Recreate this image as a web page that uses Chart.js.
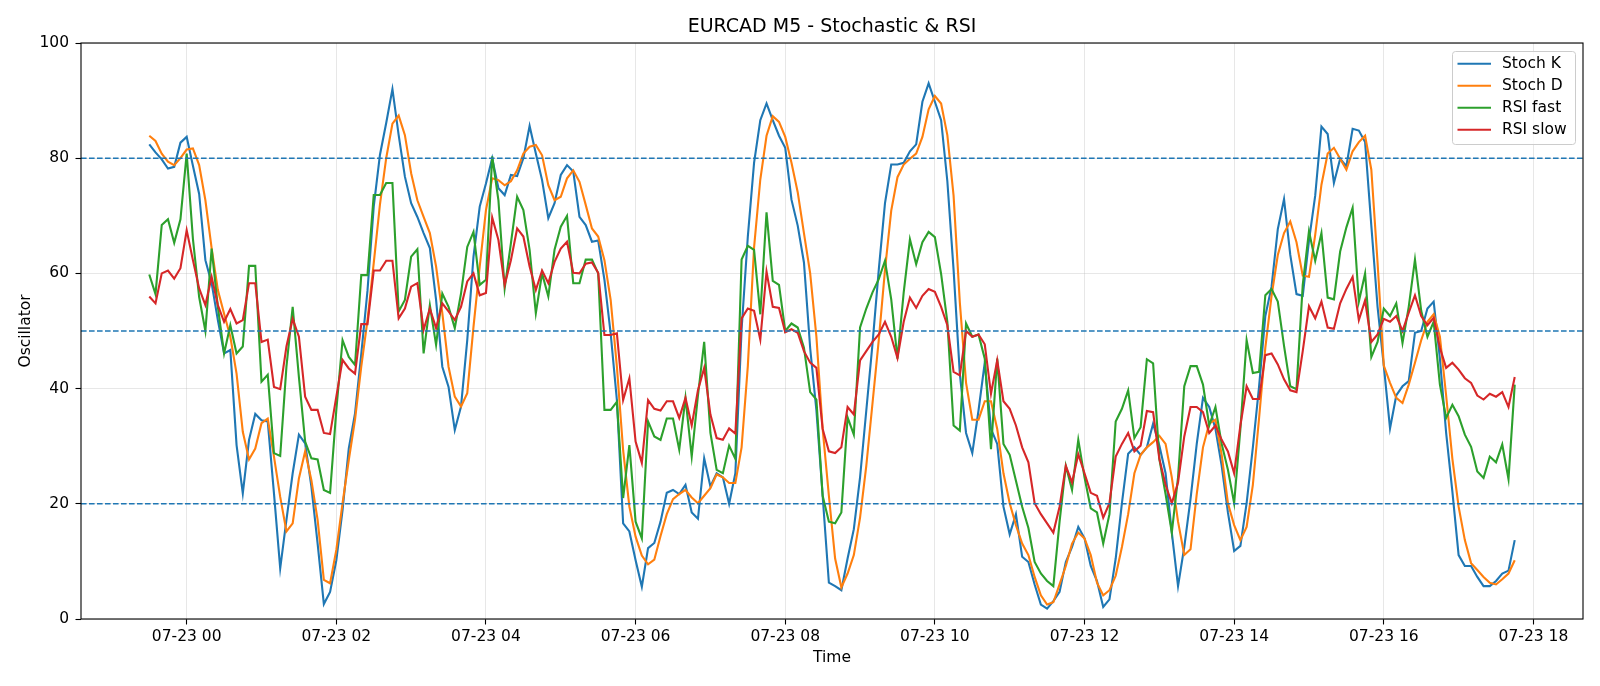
<!DOCTYPE html>
<html>
<head>
<meta charset="utf-8">
<title>EURCAD M5 - Stochastic & RSI</title>
<script src="https://cdn.jsdelivr.net/npm/chart.js@4.4.1/dist/chart.umd.min.js"></script>
<style>
  html, body { margin: 0; padding: 0; background: #fff; }
  #chart { display: block; }
</style>
</head>
<body>
<canvas id="chart" width="1600" height="686"></canvas>
<script>
// 시간축: 07-22 23:30 부터 5분봉 (분 단위, 07-23 00:00 = 0)
const startMinute = -30;
const stepMinutes = 5;

// 눈금
const xTickValues = [0, 120, 240, 360, 480, 600, 720, 840, 960, 1080];
const xTickLabels = ['07-23 00', '07-23 02', '07-23 04', '07-23 06', '07-23 08',
                     '07-23 10', '07-23 12', '07-23 14', '07-23 16', '07-23 18'];
const yTickValues = [0, 20, 40, 60, 80, 100];
const levels = [80, 50, 20];

// 시리즈 값
const stochK = [
    82.4, 81.0, 79.8, 78.2, 78.5, 82.7, 83.7, 78.7, 73.8, 62.3,
    58.3, 51.9, 46.1, 46.7, 30.2, 21.8, 31.1, 35.6, 34.5, 34.3,
    21.8, 8.8, 17.2, 25.3, 32.0, 30.5, 23.0, 13.1, 2.6, 4.7,
    10.2, 18.9, 29.6, 35.7, 46.0, 57.0, 71.6, 80.6, 86.1, 92.0,
    84.0, 76.8, 72.2, 69.8, 67.0, 64.4, 55.4, 43.8, 40.3, 32.8,
    36.9, 48.4, 62.9, 71.6, 75.6, 80.0, 74.8, 73.6, 77.1, 76.9,
    80.0, 85.6, 80.8, 76.2, 69.6, 72.2, 77.1, 78.8, 77.7, 69.8,
    68.4, 65.5, 65.7, 58.9, 49.6, 38.0, 16.6, 15.2, 10.2, 5.6,
    12.3, 13.2, 16.9, 21.9, 22.4, 21.7, 23.3, 18.5, 17.4, 27.9,
    23.0, 25.3, 24.6, 20.0, 25.3, 50.3, 66.4, 79.2, 86.6, 89.5,
    86.6, 83.9, 81.8, 72.8, 68.3, 61.9, 47.0, 36.2, 21.4, 6.3,
    5.7, 5.0, 10.5, 15.6, 24.6, 36.2, 47.8, 60.6, 72.2, 78.9,
    78.9, 79.2, 81.2, 82.4, 89.8, 93.0, 89.8, 86.6, 76.0, 60.6,
    42.6, 32.3, 28.8, 36.2, 44.5, 33.0, 30.4, 19.5, 14.7, 18.2,
    10.8, 9.9, 6.0, 2.5, 1.8, 3.1, 4.7, 9.9, 12.5, 16.0,
    14.0, 9.2, 6.6, 2.1, 3.4, 10.5, 20.1, 28.7, 29.8, 28.5,
    29.8, 33.9, 30.1, 25.3, 15.0, 5.7, 12.5, 20.8, 30.4, 38.4,
    36.8, 33.0, 26.6, 18.5, 11.8, 12.7, 20.1, 29.8, 40.4, 52.6,
    57.7, 67.7, 72.9, 63.2, 56.4, 56.1, 65.7, 73.5, 85.5, 84.2,
    75.7, 79.9, 78.6, 85.1, 84.8, 82.8, 68.3, 54.2, 44.0, 33.1,
    38.8, 40.4, 41.3, 49.7, 50.0, 53.9, 55.1, 45.2, 32.3, 22.1,
    11.1, 9.2, 9.2, 7.3, 5.7, 5.7, 6.6, 7.9, 8.4, 13.7
];
const stochD = [
    83.9, 83.0, 80.8, 79.4, 78.8, 80.0, 81.5, 81.7, 78.8, 72.7,
    64.4, 57.1, 53.0, 49.0, 42.6, 32.5, 27.7, 29.6, 34.0, 34.8,
    28.2, 21.2, 15.2, 16.6, 24.4, 29.1, 24.1, 17.2, 6.8, 6.2,
    12.0, 20.1, 27.6, 34.6, 43.8, 51.9, 61.8, 72.0, 80.0, 86.0,
    87.4, 84.0, 77.4, 72.7, 69.8, 67.0, 61.2, 53.1, 43.8, 38.6,
    36.9, 39.2, 50.7, 61.2, 71.0, 76.5, 76.2, 75.3, 76.0, 77.9,
    80.8, 82.0, 82.3, 80.5, 75.3, 72.7, 73.3, 76.5, 77.9, 75.9,
    71.9, 67.8, 66.4, 62.3, 55.4, 43.8, 29.3, 19.5, 14.3, 11.0,
    9.5, 10.3, 14.4, 18.2, 20.8, 21.7, 22.4, 21.1, 20.1, 21.4,
    22.7, 25.1, 24.6, 23.6, 23.6, 29.8, 43.9, 64.5, 76.3, 83.9,
    87.3, 86.3, 83.7, 79.2, 74.1, 67.0, 60.0, 49.0, 33.0, 21.4,
    10.5, 5.5, 7.9, 11.1, 17.6, 26.6, 37.5, 48.4, 60.6, 70.9,
    76.7, 78.9, 79.9, 80.8, 83.7, 88.5, 90.8, 89.5, 84.0, 73.5,
    55.0, 41.0, 34.6, 34.6, 37.8, 37.8, 33.0, 25.3, 20.1, 16.3,
    13.1, 11.1, 7.3, 4.1, 2.5, 2.9, 6.0, 9.2, 13.1, 15.0,
    14.0, 11.1, 6.3, 4.1, 5.0, 7.5, 12.5, 18.2, 25.3, 28.5,
    29.8, 30.7, 31.8, 30.4, 24.6, 16.9, 11.1, 12.1, 21.7, 29.8,
    33.9, 34.6, 28.5, 20.1, 16.3, 13.7, 16.0, 23.3, 34.9, 47.1,
    56.1, 63.2, 67.0, 69.0, 65.4, 59.6, 59.4, 66.7, 75.4, 80.8,
    81.8, 79.9, 78.0, 81.2, 82.8, 83.9, 78.0, 61.9, 44.0, 41.0,
    38.4, 37.5, 40.7, 44.5, 48.4, 51.6, 52.9, 49.0, 38.8, 27.8,
    19.5, 13.7, 9.7, 8.5, 7.3, 6.3, 6.0, 6.9, 7.9, 10.2
];
const rsiFast = [
    59.8, 56.4, 68.4, 69.4, 65.3, 69.4, 80.8, 66.0, 55.9, 50.0,
    64.3, 54.2, 46.1, 51.0, 46.1, 47.3, 61.3, 61.3, 41.2, 42.4,
    28.8, 28.3, 43.8, 54.2, 42.0, 30.8, 27.9, 27.7, 22.4, 21.9,
    36.3, 48.4, 45.5, 44.1, 59.7, 59.7, 73.6, 73.6, 75.7, 75.7,
    53.4, 55.4, 62.9, 64.2, 46.1, 54.5, 47.6, 56.5, 54.2, 50.5,
    56.5, 64.6, 67.2, 58.0, 58.9, 80.3, 72.7, 57.4, 65.2, 73.3,
    71.0, 64.1, 53.1, 60.0, 56.0, 64.1, 68.1, 70.0, 58.3, 58.3,
    62.4, 62.4, 60.0, 36.3, 36.3, 37.7, 21.0, 30.2, 16.9, 14.0,
    34.3, 31.7, 31.1, 34.8, 34.8, 29.4, 38.4, 28.2, 38.8, 48.1,
    32.3, 25.9, 25.3, 30.1, 27.8, 62.4, 64.8, 64.1, 52.9, 70.6,
    58.7, 58.0, 50.0, 51.3, 50.6, 47.1, 39.4, 38.1, 21.4, 16.9,
    16.6, 18.5, 35.0, 32.0, 50.6, 53.9, 56.7, 59.0, 62.2, 55.5,
    45.2, 56.7, 65.9, 61.6, 65.4, 67.2, 66.3, 59.9, 51.6, 33.6,
    32.7, 51.3, 49.0, 49.4, 45.2, 29.5, 45.2, 30.4, 28.5, 24.0,
    19.5, 15.8, 9.9, 7.9, 6.6, 5.7, 16.9, 26.6, 22.4, 31.1,
    24.6, 19.2, 18.5, 13.1, 18.2, 34.3, 36.5, 39.7, 31.4, 33.3,
    45.1, 44.4, 27.8, 21.7, 15.0, 24.6, 40.4, 43.9, 43.9, 40.7,
    33.6, 36.8, 30.4, 25.9, 20.1, 33.0, 48.4, 42.7, 42.9, 56.2,
    57.3, 55.1, 47.4, 40.4, 39.9, 58.0, 67.3, 62.2, 67.0, 55.8,
    55.5, 63.8, 68.0, 71.4, 55.1, 60.0, 45.5, 48.1, 53.9, 52.6,
    54.8, 47.9, 54.2, 62.4, 53.5, 49.0, 51.6, 40.7, 34.9, 37.2,
    35.2, 32.0, 29.9, 25.6, 24.5, 28.2, 27.2, 30.3, 24.3, 40.7
];
const rsiSlow = [
    56.0, 54.8, 60.0, 60.5, 59.1, 60.9, 67.5, 62.3, 57.4, 54.5,
    59.4, 54.5, 51.6, 53.8, 51.3, 51.9, 58.3, 58.3, 48.1, 48.5,
    40.3, 39.9, 47.3, 52.1, 49.0, 38.6, 36.3, 36.3, 32.3, 32.1,
    38.6, 45.0, 43.5, 42.6, 51.2, 51.2, 60.5, 60.5, 62.2, 62.2,
    52.2, 53.9, 57.7, 58.3, 50.2, 53.9, 50.5, 54.8, 53.4, 51.9,
    54.2, 58.6, 60.0, 56.2, 56.6, 69.7, 65.8, 58.0, 62.3, 67.8,
    66.4, 61.2, 57.1, 60.5, 58.3, 62.0, 64.3, 65.5, 60.1, 60.0,
    61.7, 61.9, 60.1, 49.3, 49.3, 49.6, 38.0, 41.8, 30.8, 27.1,
    38.0, 36.5, 36.2, 37.8, 37.8, 34.9, 38.4, 33.6, 39.7, 43.6,
    35.5, 31.4, 31.1, 33.1, 32.2, 52.2, 53.9, 53.5, 48.5, 60.3,
    54.2, 54.0, 49.8, 50.3, 49.7, 46.5, 44.5, 43.6, 33.0, 29.1,
    28.8, 29.8, 36.8, 35.5, 44.9, 46.5, 48.1, 49.4, 51.6, 49.0,
    45.3, 51.6, 55.8, 54.0, 56.1, 57.3, 56.8, 54.2, 51.0, 42.9,
    42.3, 50.0, 49.0, 49.4, 47.7, 39.1, 44.9, 37.8, 36.5, 33.6,
    29.8, 27.2, 20.1, 18.2, 16.6, 15.0, 19.5, 26.6, 23.7, 28.6,
    25.3, 21.9, 21.4, 17.6, 20.1, 28.2, 30.4, 32.3, 29.1, 30.1,
    36.1, 35.9, 27.8, 23.3, 20.1, 23.7, 31.7, 36.8, 36.8, 35.9,
    32.3, 33.6, 31.1, 29.1, 25.3, 33.6, 40.4, 38.2, 38.2, 45.8,
    46.1, 44.2, 41.6, 39.7, 39.4, 46.5, 54.3, 52.2, 55.1, 50.6,
    50.4, 54.8, 57.3, 59.4, 51.9, 55.3, 48.1, 49.4, 52.1, 51.6,
    52.6, 50.0, 53.2, 56.2, 52.6, 51.0, 52.3, 47.1, 43.6, 44.5,
    43.3, 41.8, 41.0, 38.8, 38.1, 39.1, 38.6, 39.4, 36.8, 42.0
];

// x 좌표 (분)
const times = stochK.map((_, i) => startMinute + i * stepMinutes);
const lastMinute = times[times.length - 1];
// matplotlib 기본 여백 5%
const xMargin = (lastMinute - startMinute) * 0.05;
const xMin = startMinute - xMargin;
const xMax = lastMinute + xMargin;

const toPoints = values => values.map((v, i) => ({ x: times[i], y: v }));

const series = [
    { label: 'Stoch K', values: stochK, color: '#1f77b4' },
    { label: 'Stoch D', values: stochD, color: '#ff7f0e' },
    { label: 'RSI fast', values: rsiFast, color: '#2ca02c' },
    { label: 'RSI slow', values: rsiSlow, color: '#d62728' }
];

const FONT = 'DejaVu Sans';
const TICK_SIZE = 15.5;
Chart.defaults.font.family = FONT;
Chart.defaults.color = '#000';

// 기준선 (점선)
const levelDatasets = levels.map(level => ({
    label: '',
    isLevel: true,
    data: [{ x: xMin, y: level }, { x: xMax, y: level }],
    borderColor: '#1f77b4',
    borderWidth: 1.4,
    borderDash: [5.6, 2.4],
    pointRadius: 0,
    order: 0
}));

const seriesDatasets = series.map((s, k) => ({
    label: s.label,
    data: toPoints(s.values),
    borderColor: s.color,
    backgroundColor: s.color,
    borderWidth: 2.1,
    pointRadius: 0,
    tension: 0,
    order: 10 - k
}));

// 축 테두리
const frame = {
    id: 'frame',
    afterDatasetsDraw(chart) {
        const { ctx, chartArea: a } = chart;
        ctx.save();
        ctx.strokeStyle = '#000';
        ctx.lineWidth = 1.1;
        ctx.strokeRect(a.left, a.top, a.right - a.left, a.bottom - a.top);
        ctx.restore();
    }
};

// 차트 안쪽 범례 (오른쪽 위)
const insideLegend = {
    id: 'insideLegend',
    afterDraw(chart) {
        const { ctx, chartArea } = chart;
        const boxX = chartArea.right - 131;
        const boxY = chartArea.top + 8;
        const boxW = 123, boxH = 93;
        ctx.save();
        ctx.fillStyle = 'rgba(255,255,255,0.8)';
        ctx.strokeStyle = '#cccccc';
        ctx.lineWidth = 1;
        ctx.beginPath();
        ctx.roundRect(boxX + 0.5, boxY + 0.5, boxW, boxH, 3);
        ctx.fill();
        ctx.stroke();
        ctx.font = TICK_SIZE + 'px "' + FONT + '"';
        ctx.textBaseline = 'middle';
        chart.data.datasets.filter(ds => !ds.isLevel).forEach((ds, k) => {
            const y = boxY + 12.8 + k * 22;
            ctx.strokeStyle = ds.borderColor;
            ctx.lineWidth = 2.1;
            ctx.beginPath();
            ctx.moveTo(boxX + 5.5, y);
            ctx.lineTo(boxX + 39, y);
            ctx.stroke();
            ctx.fillStyle = '#000';
            ctx.fillText(ds.label, boxX + 50, y);
        });
        ctx.restore();
    }
};

new Chart(document.getElementById('chart'), {
    type: 'line',
    data: { datasets: [...levelDatasets, ...seriesDatasets] },
    options: {
        responsive: false,
        animation: false,
        devicePixelRatio: 1,
        layout: { padding: { left: 0, right: 17, top: 0, bottom: 0 } },
        plugins: {
            legend: { display: false },
            tooltip: { enabled: false },
            title: {
                display: true,
                text: 'EURCAD M5 - Stochastic & RSI',
                fullSize: false,
                color: '#000',
                font: { family: FONT, size: 19, weight: 'normal', lineHeight: 1.2 },
                padding: { top: 15.5, bottom: 4.7 }
            }
        },
        scales: {
            x: {
                type: 'linear',
                min: xMin,
                max: xMax,
                afterBuildTicks: scale => {
                    scale.ticks = xTickValues.map(v => ({ value: v }));
                },
                afterFit: scale => { scale.height = 67; },
                ticks: {
                    autoSkip: false,
                    maxRotation: 0,
                    padding: 3,
                    font: { size: TICK_SIZE },
                    callback: value => xTickLabels[xTickValues.indexOf(value)]
                },
                grid: {
                    color: 'rgba(176,176,176,0.3)',
                    lineWidth: 1,
                    tickColor: '#000',
                    tickLength: 5.5,
                    tickWidth: 1.1
                },
                border: { display: false },
                title: {
                    display: true,
                    text: 'Time',
                    font: { size: TICK_SIZE, lineHeight: 1.2 },
                    padding: { top: 0, bottom: 19 }
                }
            },
            y: {
                min: 0,
                max: 100,
                afterBuildTicks: scale => {
                    scale.ticks = yTickValues.map(v => ({ value: v }));
                },
                afterFit: scale => { scale.width = 81; },
                ticks: {
                    padding: 6.5,
                    font: { size: TICK_SIZE }
                },
                grid: {
                    color: 'rgba(176,176,176,0.3)',
                    lineWidth: 1,
                    tickColor: '#000',
                    tickLength: 5.5,
                    tickWidth: 1.1
                },
                border: { display: false },
                title: {
                    display: true,
                    text: 'Oscillator',
                    font: { size: TICK_SIZE, lineHeight: 1.2 },
                    padding: { top: 17, bottom: 0 }
                }
            }
        }
    },
    plugins: [frame, insideLegend]
});
</script>
</body>
</html>
